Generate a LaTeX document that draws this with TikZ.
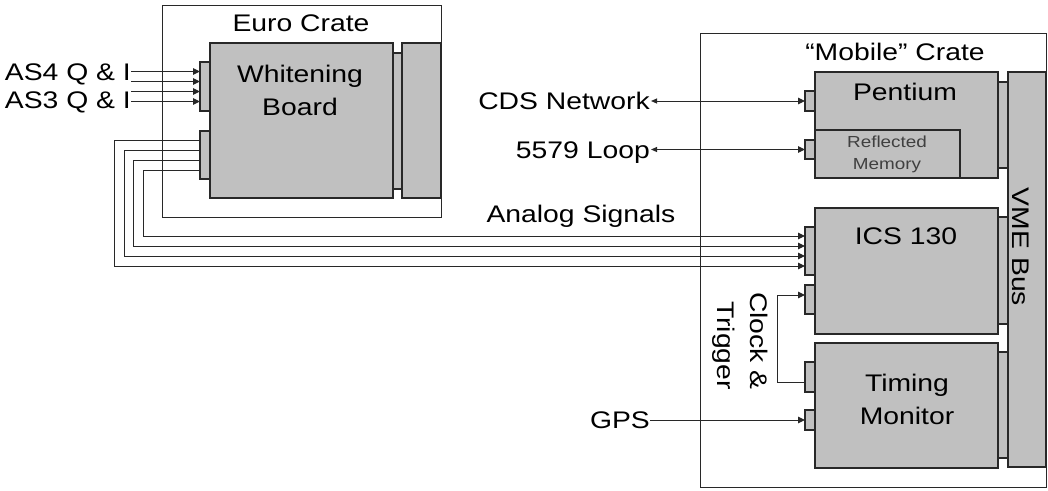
\documentclass[tikz,border=0pt]{standalone}
\usepackage{fontspec}
\setmainfont{Liberation Sans}[FakeStretch=1.18]
\usetikzlibrary{arrows.meta}
\definecolor{board}{RGB}{192,192,192}
\definecolor{edge}{RGB}{40,40,40}
\definecolor{dimtext}{RGB}{64,64,64}

\begin{document}
\begin{tikzpicture}[x=1pt,y=-1pt,
    crate/.style={draw=edge,line width=1pt,fill=white,anchor=north west,
      inner sep=0pt,outer sep=0pt},
    card/.style={draw=edge,line width=1.1pt,fill=board,anchor=north west,
      inner sep=0pt,outer sep=0pt},
    lbl/.style={inner sep=0pt,font=\fontsize{24}{33}\selectfont,align=center},
    sig/.style={draw=edge,line width=1pt,-{Triangle[length=7pt,width=6.5pt]}},
    bisig/.style={sig,{Triangle[length=6pt,width=5pt]}-{Triangle[length=7pt,width=6.5pt]}}
  ]
  \useasboundingbox (0,0) rectangle (1048,490);

  % Euro crate
  \node[crate,minimum width=279pt,minimum height=212pt] (euro) at (162,5) {};
  \node[card,minimum width=183pt,minimum height=155pt] (wb) at (210,43) {};
  \node[card,minimum width=9pt,minimum height=136pt] (wbbus) at (393,53) {};
  \node[card,minimum width=39pt,minimum height=155pt] (wbpsu) at (402,43) {};
  \node[card,minimum width=10pt,minimum height=49pt] (win) at (200,62) {};
  \node[card,minimum width=10pt,minimum height=48pt] (wout) at (200,131) {};

  % Mobile crate
  \node[crate,minimum width=346pt,minimum height=454pt] (mobile) at (700,33) {};
  \node[card,minimum width=38pt,minimum height=395pt] (vme) at (1008,72) {};
  \node[card,minimum width=10pt,minimum height=86pt] (pbus) at (998,82) {};
  \node[card,minimum width=183pt,minimum height=106pt] (pent) at (815,72) {};
  \node[card,minimum width=145pt,minimum height=48pt] (refl) at (815,130) {};
  \node[card,minimum width=10pt,minimum height=20pt] (pin) at (805,91) {};
  \node[card,minimum width=10pt,minimum height=19pt] (rin) at (805,140) {};
  \node[card,minimum width=10pt,minimum height=107pt] (ibus) at (998,217) {};
  \node[card,minimum width=183pt,minimum height=126pt] (ics) at (815,208) {};
  \node[card,minimum width=10pt,minimum height=48pt] (icsin) at (805,227) {};
  \node[card,minimum width=10pt,minimum height=29pt] (clkin) at (805,285) {};
  \node[card,minimum width=10pt,minimum height=106pt] (tbus) at (998,352) {};
  \node[card,minimum width=183pt,minimum height=125pt] (tm) at (815,343) {};
  \node[card,minimum width=10pt,minimum height=30pt] (clkout) at (805,362) {};
  \node[card,minimum width=10pt,minimum height=20pt] (gpsin) at (805,410) {};

  % labels
  \node[lbl,anchor=base] at (301,31) {Euro Crate};
  \node[lbl] at (300,90) {Whitening\\Board};
  \node[lbl,anchor=base] at (895,60) {“Mobile” Crate};
  \node[lbl,anchor=base] at (905,100) {Pentium};
  \node[lbl,font=\fontsize{16}{22}\selectfont,text=dimtext] at (887,154)
    {Reflected\\Memory};
  \node[lbl,anchor=base] at (906,244) {ICS 130};
  \node[lbl] at (907,399) {Timing\\Monitor};
  \node[lbl,rotate=-90] at (1021,247) {VME Bus};
  \node[lbl,rotate=-90,align=right] at (740,341) {Clock \&\\Trigger};

  \node[lbl,anchor=base east] (as4) at (131,80) {AS4 Q \& I};
  \node[lbl,anchor=base east] (as3) at (131,108) {AS3 Q \& I};
  \node[lbl,anchor=base east] (cds) at (650,109) {CDS Network};
  \node[lbl,anchor=base east] (loop) at (650,158) {5579 Loop};
  \node[lbl,anchor=base east] (gps) at (650,428) {GPS};
  \node[lbl,anchor=base] (analog) at (581,222) {Analog Signals};

  % signals
  \foreach \dy/\src in {15pt/as4,5pt/as4,-5pt/as3,-15pt/as3}{
    \coordinate (tip) at ([yshift=\dy]win.west);
    \draw[sig] (tip -| \src.east) -- (tip);
  }
  \foreach \dy/\ey/\xb in {15pt/-15pt/114,5pt/-5pt/124,-5pt/5pt/133,-15pt/15pt/143}{
    \coordinate (aend) at ([yshift=\ey]icsin.west);
    \coordinate (abend) at (\xb,0);
    \draw[sig] ([yshift=\dy]wout.west) -| (aend -| abend) -- (aend);
  }
  \draw[bisig] ([xshift=1pt]cds.east |- pin.west) -- (pin.west);
  \draw[bisig] ([xshift=1pt]loop.east |- rin.west) -- (rin.west);
  \draw[sig] (gps.east |- gpsin.west) -- (gpsin.west);
  \coordinate (clkbend) at (777,295);
  \draw[sig] ([yshift=-5pt]clkout.west) -| (clkbend) -- (clkin.west |- clkbend);
\end{tikzpicture}
\end{document}
